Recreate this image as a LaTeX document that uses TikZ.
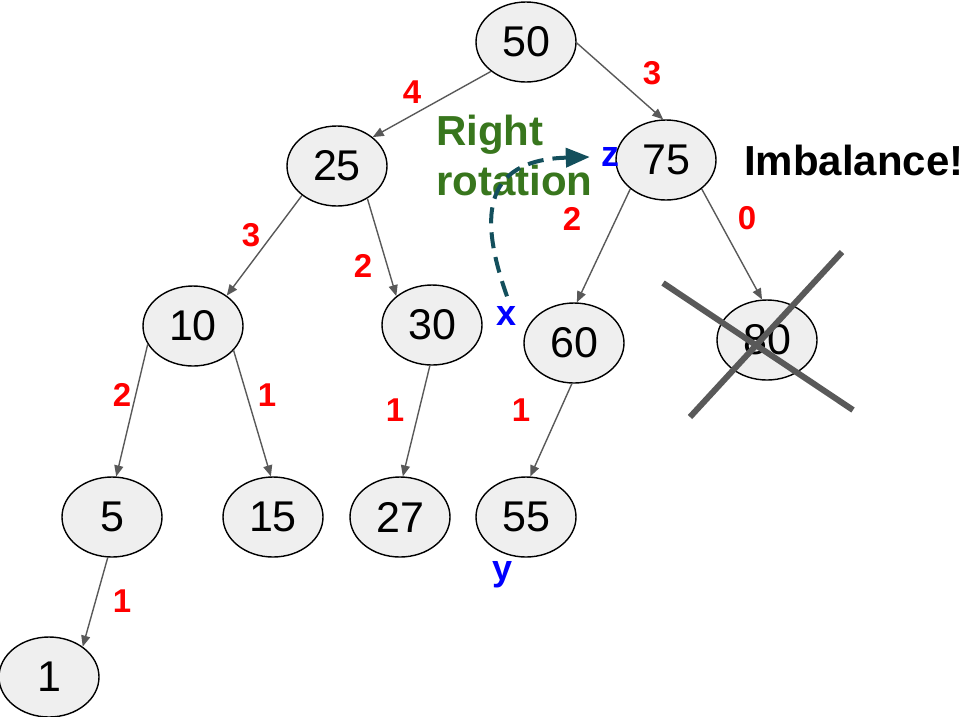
\documentclass[tikz,border=0pt]{standalone}
\usepackage{fontspec}
\setmainfont{Liberation Sans}
\usepackage{tikz}
\usetikzlibrary{arrows.meta,shapes.geometric}
\definecolor{edgegray}{HTML}{595959}
\definecolor{nodefill}{HTML}{EFEFEF}
\definecolor{rotgreen}{HTML}{38761D}
\definecolor{rotteal}{HTML}{134F5C}
\tikzset{
  every picture/.style={line join=round, >=Stealth},
  key/.style={ellipse, draw=black, line width=1.4pt, fill=nodefill, minimum width=100pt,
    minimum height=80pt, inner sep=0pt, font=\fontsize{43}{50}\selectfont},
  edge/.style={draw=edgegray, line width=1.4pt, -{Triangle[length=11pt,width=9pt]}},
  height/.style={text=red, inner sep=0pt, font=\fontsize{33}{38}\selectfont\bfseries},
  role/.style={text=blue, inner sep=0pt, font=\fontsize{36}{40}\selectfont\bfseries},
  bigtext/.style={inner sep=0pt, anchor=base west, font=\fontsize{42}{50}\selectfont\bfseries},
}

\begin{document}
\begin{tikzpicture}[x=1pt,y=-1pt]
\useasboundingbox (0,0) rectangle (965,716);
% tree keys
\node[key] (n50) at (526,42) {50};
\node[key] (n25) at (337,166) {25};
\node[key] (n75) at (666,160) {75};
\node[key] (n10) at (193,326) {10};
\node[key] (n30) at (432,325) {30};
\node[key] (n60) at (574,343) {60};
\node[key] (n80) at (767,340) {80};
\node[key] (n5) at (112,517) {5};
\node[key] (n15) at (273,517) {15};
\node[key] (n27) at (400,517) {27};
\node[key] (n55) at (526,517) {55};
\node[key] (n1) at (49,677) {1};
% child links
\draw[edge] (n50.220) -- (n25.39);
\draw[edge] (n50.359) -- (n75.94);
\draw[edge] (n25.220) -- (n10.42);
\draw[edge] (n25.313) -- (n30.141);
\draw[edge] (n10.202) -- (n5.84);
\draw[edge] (n10.329) -- (n15.93);
\draw[edge] (n30.267) -- (n27.86);
\draw[edge] (n75.219) -- (n60.86);
\draw[edge] (n75.321) -- (n80.97);
\draw[edge] (n60.267) -- (n55.84);
\draw[edge] (n5.264) -- (n1.42);
% heights
\foreach \h/\x/\y [count=\i] in {4/412/92, 3/652/73, 3/251/235, 2/363/266, 2/572/219, 0/747/218,
  2/122/395, 1/267/395, 1/395/410, 1/521/410, 1/122/601}
  \node[height] (h\i) at (\x,\y) {\h};
% x, y, z
\node[role] (z) at (610,157) {z};
\node[role] (x) at (507,316) {x};
\node[role] (y) at (503,575) {y};
% rotation
\node[bigtext, text=rotgreen] (rot1) at (436,145) {Right};
\node[bigtext, text=rotgreen] (rot2) at (436,195) {rotation};
\coordinate (ztip) at ([xshift=-11pt]z.west);
\draw[rotteal, line width=4pt, dash pattern=on 16pt off 9pt, -{Triangle[length=24pt,width=19pt]}]
  (x.north) ++(0,-10) coordinate (xtop) .. controls (480,220) and (480,160) .. (ztip);
\node[bigtext] (imb) at (744,175) {Imbalance!};
% deleted node
\draw[edgegray, line width=6pt] (663,283) -- (853,410);
\draw[edgegray, line width=6pt] (690,417) -- (842,252);
\end{tikzpicture}
\end{document}
